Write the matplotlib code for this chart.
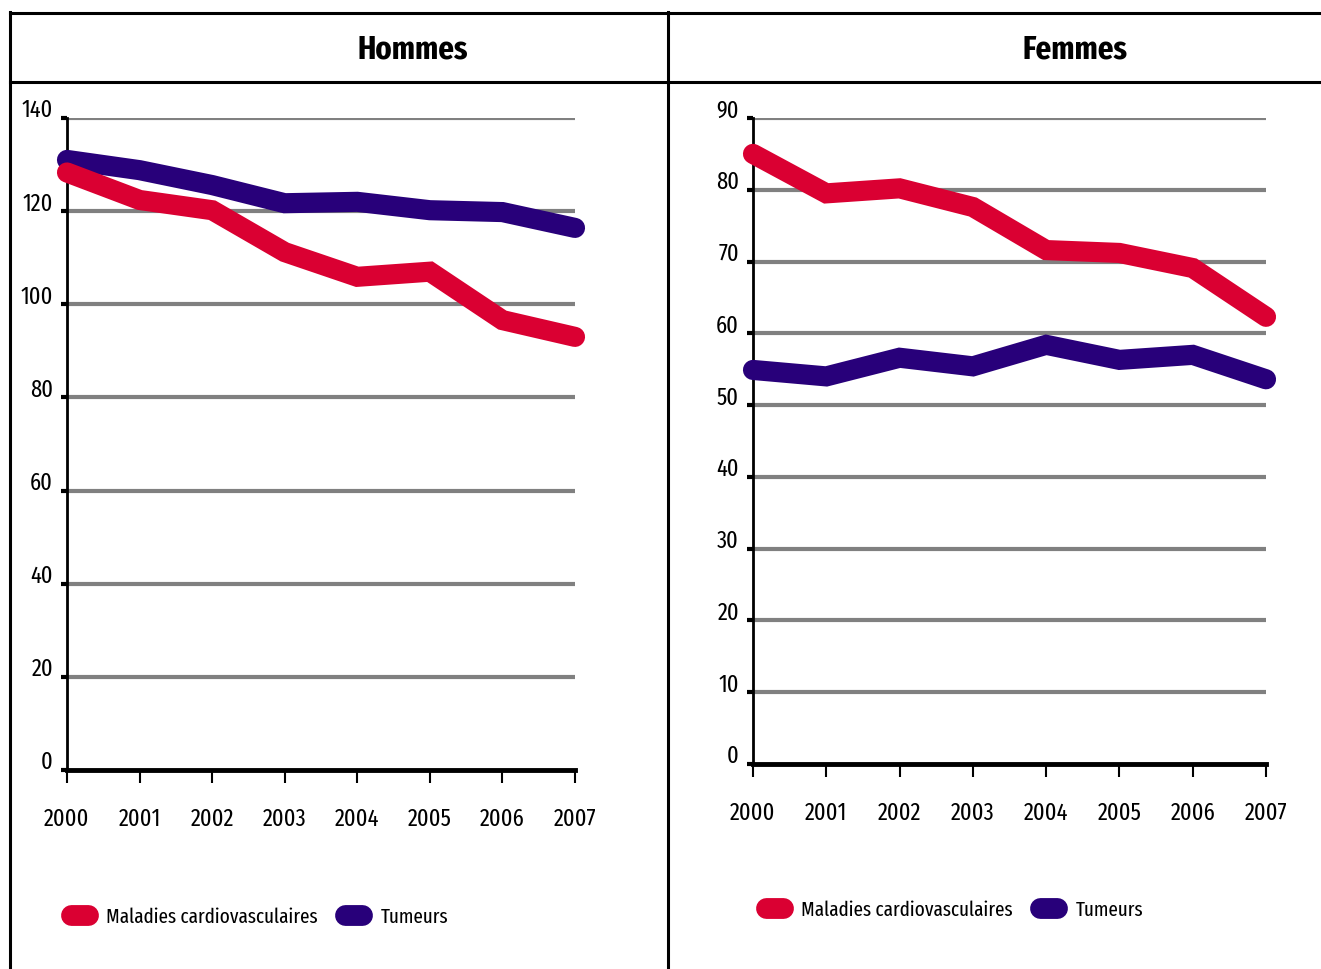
import matplotlib
matplotlib.use("Agg")
import matplotlib.pyplot as plt
from matplotlib.lines import Line2D
from matplotlib.transforms import ScaledTranslation

plt.rcParams['font.family'] = ['Fira Sans Extra Condensed', 'DejaVu Sans']
plt.rcParams['font.stretch'] = 'condensed'

# data
years = [2000, 2001, 2002, 2003, 2004, 2005, 2006, 2007]
hommes_cardio = [128.3, 122.4, 120.2, 111.2, 105.9, 107.0, 96.6, 93.0]
hommes_tumeurs = [131.0, 128.8, 125.6, 121.7, 122.0, 120.2, 119.8, 116.4]
femmes_cardio = [85.0, 79.5, 80.2, 77.6, 71.6, 71.2, 69.1, 62.3]
femmes_tumeurs = [54.9, 54.0, 56.6, 55.4, 58.4, 56.3, 57.0, 53.6]

titles = ['Hommes', 'Femmes']
labels = ['Maladies cardiovasculaires', 'Tumeurs']
red = '#DA0032'
blue = '#28007A'
grey = '#808080'

fig = plt.figure(figsize=(13.21, 9.69), dpi=100)

# table-like frame
W, H = 1321, 969
def hline(y, x0, x1):
    fig.add_artist(Line2D([x0 / W, x1 / W], [1 - y / H, 1 - y / H], color='black', lw=2.2))
def vline(x, y0, y1):
    fig.add_artist(Line2D([x / W, x / W], [1 - y0 / H, 1 - y1 / H], color='black', lw=2.2))
hline(13, 10, 1321)
hline(82, 10, 1321)
vline(10, 12, 969)
vline(668, 12, 969)
fig.text(413 / W, 1 - 50 / H, titles[0], ha='center', va='center', fontsize=24, fontweight='bold')
fig.text(1075 / W, 1 - 50 / H, titles[1], ha='center', va='center', fontsize=24, fontweight='bold')

ax1 = fig.add_axes([67 / W, 1 - 770 / H, (575 - 67) / W, (770 - 118) / H])
ax2 = fig.add_axes([753 / W, 1 - 764 / H, (1266 - 753) / W, (764 - 118) / H])

panels = [
    (ax1, hommes_cardio, hommes_tumeurs, 140, 20, (71 / W, 1 - 917 / H)),
    (ax2, femmes_cardio, femmes_tumeurs, 90, 10, (766 / W, 1 - 910 / H)),
]

for ax, cardio, tumeurs, ymax, step, leg_pos in panels:
    yt = list(range(0, ymax + 1, step))
    for v in yt[1:]:
        ax.plot([years[0], years[-1]], [v, v], color=grey, lw=3, zorder=1, solid_capstyle='butt')
    ax.plot(years, tumeurs, color=blue, lw=14.5, solid_capstyle='round', solid_joinstyle='miter',
            clip_on=False, zorder=3)
    ax.plot(years, cardio, color=red, lw=14.5, solid_capstyle='round', solid_joinstyle='miter',
            clip_on=False, zorder=4)
    ax.set_xlim(years[0], years[-1])
    ax.set_ylim(0, ymax)
    ax.set_yticks(yt)
    ax.set_xticks(years)
    ax.set_xticklabels([str(y) for y in years])
    for s in ['top', 'right']:
        ax.spines[s].set_visible(False)
    ax.spines['left'].set_linewidth(2)
    ax.spines['bottom'].set_linewidth(3.5)
    ax.spines['bottom'].set_zorder(5)
    ax.tick_params(axis='y', length=4, width=3, direction='out', labelsize=17.5, pad=6)
    ax.tick_params(axis='x', length=9, width=1.5, direction='out', labelsize=17.5, pad=18)
    for lab in ax.get_yticklabels():
        lab.set_transform(lab.get_transform() + ScaledTranslation(0, 7 / 72, fig.dpi_scale_trans))
    handles = [Line2D([], [], color=red, lw=15, solid_capstyle='round'),
               Line2D([], [], color=blue, lw=15, solid_capstyle='round')]
    fig.legend(handles, labels, loc='center left', bbox_to_anchor=leg_pos,
               ncol=2, frameon=False, fontsize=15, handlelength=0.8, handletextpad=0.9,
               columnspacing=1.3, borderaxespad=0, borderpad=0)

fig.savefig('out.png', dpi=100)
